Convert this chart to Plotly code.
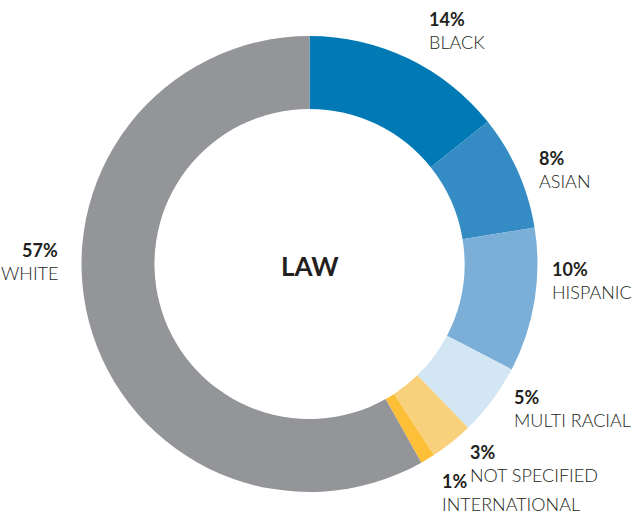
import plotly.graph_objects as go

categories = ["BLACK", "ASIAN", "HISPANIC", "MULTI RACIAL", "NOT SPECIFIED", "INTERNATIONAL", "WHITE"]
values = [14, 8, 10, 5, 3, 1, 57]
colors = ["#0079B5", "#358CC4", "#7BAFD7", "#D3E6F3", "#F9D07C", "#FDBE38", "#939598"]
center_title = "LAW"

W, H = 634, 514
# label anchor positions in pixels (x, y of percentage line), alignment
label_pos = [
    (427, 19, "left"),
    (537, 158, "left"),
    (550, 269, "left"),
    (512, 397, "left"),
    (468, 452, "left"),
    (440, 481, "left"),
    (60, 250, "right"),
]

fig = go.Figure()
fig.add_trace(go.Pie(
    labels=categories,
    values=values,
    marker=dict(colors=colors, line=dict(width=0)),
    hole=0.68,
    sort=False,
    direction="clockwise",
    textinfo="none",
    hoverinfo="label+percent",
    showlegend=False,
    domain=dict(x=[81.5 / W, 537.5 / W], y=[(H - 492) / H, (H - 36) / H]),
))

font_family = "Lato, 'Open Sans', sans-serif"
for cat, val, (px, py, al) in zip(categories, values, label_pos):
    fig.add_annotation(
        x=px / W, y=1 - py / H, xref="paper", yref="paper",
        text=f"<b>{val}%</b>", showarrow=False, xanchor=al, yanchor="middle",
        font=dict(family=font_family, size=18, color="#231F20"),
    )
    fig.add_annotation(
        x=px / W, y=1 - (py + 22.5) / H, xref="paper", yref="paper",
        text=cat, showarrow=False, xanchor=al, yanchor="middle",
        font=dict(family=font_family, size=18, color="#231F20", weight=300),
    )

fig.add_annotation(
    x=310 / W, y=1 - 266 / H, xref="paper", yref="paper",
    text=f"<b>{center_title}</b>", showarrow=False, xanchor="center", yanchor="middle",
    font=dict(family=font_family, size=26, color="#231F20"),
)

fig.update_layout(
    width=W, height=H,
    margin=dict(l=0, r=0, t=0, b=0),
    paper_bgcolor="white", plot_bgcolor="white",
)

fig.write_html(
    "out.html",
    config={"displayModeBar": False},
    post_script="document.body.style.margin='0';document.body.style.overflow='hidden';",
)
